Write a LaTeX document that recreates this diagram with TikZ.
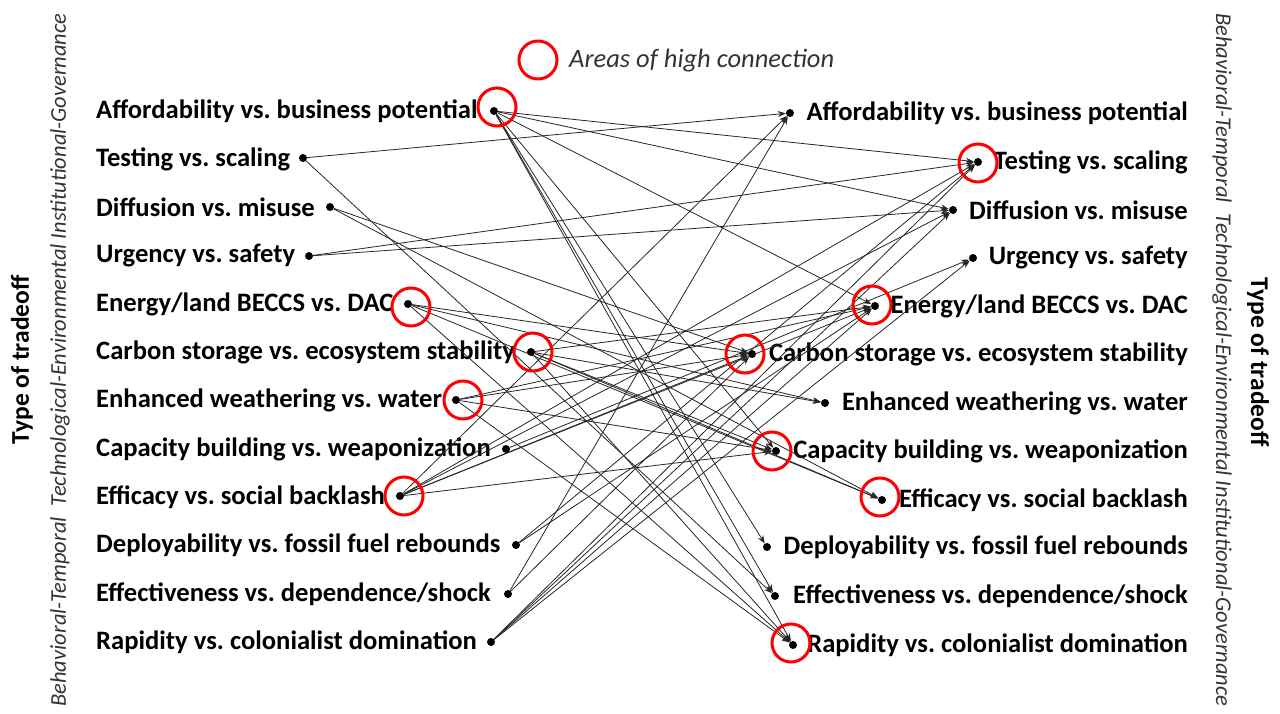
\documentclass[tikz,border=0pt]{standalone}
\usepackage{fontspec}
\setmainfont{Carlito}
\usetikzlibrary{arrows.meta}
\begin{document}
\frenchspacing
\begin{tikzpicture}[x=1pt,y=-1pt,
  lab/.style={font=\fontsize{26.6}{30}\selectfont\bfseries, inner sep=0pt},
  dotn/.style={circle, fill=black, inner sep=0pt, minimum size=8pt},
  hub/.style={circle, draw=red, line width=3pt, minimum size=38pt, inner sep=0pt},
  link/.style={-{Stealth[length=8pt,width=6pt]}, line width=0.8pt, draw=black!85},
  side/.style={font=\fontsize{25.5}{28}\selectfont\bfseries, inner sep=0pt},
  sub/.style={font=\fontsize{22.5}{26}\selectfont\itshape, inner sep=0pt, text=black!80},
]
\useasboundingbox (0,0) rectangle (1280,714);
% left labels
\node[lab, anchor=west] (tL1) at (96,111) {Affordability vs. business potential};
\node[lab, anchor=west] (tL2) at (96,159) {Testing vs. scaling};
\node[lab, anchor=west] (tL3) at (96,207) {Diffusion vs. misuse};
\node[lab, anchor=west] (tL4) at (96,256) {Urgency vs. safety};
\node[lab, anchor=west] (tL5) at (96,304) {Energy/land BECCS vs. DAC};
\node[lab, anchor=west] (tL6) at (96,352) {Carbon storage vs. ecosystem stability};
\node[lab, anchor=west] (tL7) at (96,400) {Enhanced weathering vs. water};
\node[lab, anchor=west] (tL8) at (96,449) {Capacity building vs. weaponization};
\node[lab, anchor=west] (tL9) at (96,497) {Efficacy vs. social backlash};
\node[lab, anchor=west] (tL10) at (96,545) {Deployability vs. fossil fuel rebounds};
\node[lab, anchor=west] (tL11) at (96,594) {Effectiveness vs. dependence/shock};
\node[lab, anchor=west] (tL12) at (96,642) {Rapidity vs. colonialist domination};
% right labels
\node[lab, anchor=east] (tR1) at (1188,113) {Affordability vs. business potential};
\node[lab, anchor=east] (tR2) at (1188,162) {Testing vs. scaling};
\node[lab, anchor=east] (tR3) at (1188,210) {Diffusion vs. misuse};
\node[lab, anchor=east] (tR4) at (1188,258) {Urgency vs. safety};
\node[lab, anchor=east] (tR5) at (1188,306) {Energy/land BECCS vs. DAC};
\node[lab, anchor=east] (tR6) at (1188,354) {Carbon storage vs. ecosystem stability};
\node[lab, anchor=east] (tR7) at (1188,403) {Enhanced weathering vs. water};
\node[lab, anchor=east] (tR8) at (1188,451) {Capacity building vs. weaponization};
\node[lab, anchor=east] (tR9) at (1188,500) {Efficacy vs. social backlash};
\node[lab, anchor=east] (tR10) at (1188,547) {Deployability vs. fossil fuel rebounds};
\node[lab, anchor=east] (tR11) at (1188,596) {Effectiveness vs. dependence/shock};
\node[lab, anchor=east] (tR12) at (1188,645) {Rapidity vs. colonialist domination};
% dots
\node[dotn] (L1) at (494,111) {};
\node[dotn] (L2) at (303,158) {};
\node[dotn] (L3) at (330,207) {};
\node[dotn] (L4) at (309,256) {};
\node[dotn] (L5) at (408,304) {};
\node[dotn] (L6) at (531,352) {};
\node[dotn] (L7) at (456,400) {};
\node[dotn] (L8) at (506,449) {};
\node[dotn] (L9) at (400,496) {};
\node[dotn] (L10) at (516,545) {};
\node[dotn] (L11) at (508,594) {};
\node[dotn] (L12) at (491,642) {};
\node[dotn] (R1) at (790,113) {};
\node[dotn] (R2) at (978,162) {};
\node[dotn] (R3) at (953,210) {};
\node[dotn] (R4) at (973,258) {};
\node[dotn] (R5) at (875,306) {};
\node[dotn] (R6) at (752,354) {};
\node[dotn] (R7) at (825,403) {};
\node[dotn] (R8) at (776,451) {};
\node[dotn] (R9) at (882,500) {};
\node[dotn] (R10) at (767,547) {};
\node[dotn] (R11) at (775,596) {};
\node[dotn] (R12) at (793,645) {};
% links
\foreach \a/\b in {L1/R2,L1/R3,L1/R5,L1/R8,L1/R10,L1/R11,L1/R12,
  L2/R1,L2/R11,L3/R6,L3/R9,L4/R2,L4/R3,
  L5/R6,L5/R7,L5/R9,L5/R12,
  L6/R5,L6/R7,L6/R8,L6/R9,L6/R12,
  L7/R5,L7/R6,L7/R8,L7/R12,
  L8/R4,
  L9/R1,L9/R8,L9/R6,L9/R5,L9/R2,L9/R3,
  L10/R2,L10/R5,L11/R1,L11/R6,
  L12/R2,L12/R3,L12/R4,L12/R5}
  \draw[link] (\a) -- (\b);
% hubs
\node[hub] (cL1) at (497,107) {};
\node[hub] (cL5) at (411,307) {};
\node[hub] (cL6) at (533,352) {};
\node[hub] (cL7) at (463,400) {};
\node[hub] (cL9) at (404,496) {};
\node[hub] (cR2) at (978,163) {};
\node[hub] (cR5) at (872,305) {};
\node[hub] (cR6) at (745,354) {};
\node[hub] (cR8) at (772,451) {};
\node[hub] (cR9) at (880,497) {};
\node[hub] (cR12) at (791,643) {};
% legend
\node[hub] (leg) at (538,60) {};
\node[font=\fontsize{26.5}{30}\selectfont\itshape, anchor=west, inner sep=0pt, text=black!80] (legt) at (569,61) {Areas of high connection};
% side titles
\node[side, rotate=90] (sl) at (22,360) {Type of tradeoff};
\node[sub, rotate=90] (sbl) at (60,360) {Behavioral-Temporal\enspace Technological-Environmental Institutional-Governance};
\node[side, rotate=-90] (sr) at (1258,362) {Type of tradeoff};
\node[sub, rotate=-90] (sbr) at (1222,360) {Behavioral-Temporal\enspace Technological-Environmental Institutional-Governance};
\end{tikzpicture}
\end{document}
